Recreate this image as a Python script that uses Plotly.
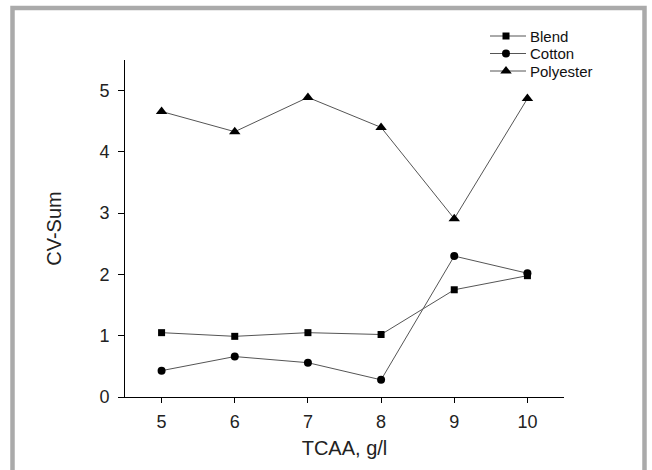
import plotly.graph_objects as go

x_tcaa = [5, 6, 7, 8, 9, 10]
blend = [1.05, 0.99, 1.05, 1.02, 1.75, 1.98]
cotton = [0.43, 0.66, 0.56, 0.28, 2.30, 2.02]
polyester = [4.66, 4.33, 4.89, 4.40, 2.91, 4.87]
series_names = ["Blend", "Cotton", "Polyester"]

W, H = 652, 470
L, R, T, B = 125, 564, 60, 397

FONT = "Liberation Sans, Arial, sans-serif"
LINE = "#555555"

styles = [("square", 7), ("circle", 8), ("triangle-up", 10)]
data = [blend, cotton, polyester]

fig = go.Figure()
for name, vals, (sym, size) in zip(series_names, data, styles):
    fig.add_trace(go.Scatter(
        x=x_tcaa, y=vals, name=name, mode="lines+markers",
        line=dict(color=LINE, width=1),
        marker=dict(symbol=sym, size=size, color="black"),
        xaxis="x", yaxis="y", showlegend=False,
    ))

# manual legend drawn on a full-page pixel overlay axis
leg_y = [36, 53.5, 71]
leg_x0, leg_xm, leg_x1, leg_tx = 490, 506, 526, 528
annotations = []
for name, (sym, size), yy in zip(series_names, styles, leg_y):
    fig.add_trace(go.Scatter(
        x=[leg_x0, leg_x1], y=[yy, yy], mode="lines",
        line=dict(color=LINE, width=1), xaxis="x2", yaxis="y2",
        showlegend=False, hoverinfo="skip"))
    fig.add_trace(go.Scatter(
        x=[leg_xm], y=[yy], mode="markers",
        marker=dict(symbol=sym, size=size, color="black"),
        xaxis="x2", yaxis="y2", showlegend=False, hoverinfo="skip"))
    annotations.append(dict(x=leg_tx, y=yy, xref="x2", yref="y2", text=name,
                            showarrow=False, xanchor="left", yanchor="middle",
                            font=dict(family=FONT, size=15, color="#111111")))

fig.update_layout(
    width=W, height=H,
    margin=dict(l=0, r=0, t=0, b=0, pad=0, autoexpand=False),
    paper_bgcolor="white", plot_bgcolor="rgba(0,0,0,0)",
    font=dict(family=FONT, size=18, color="#222222"),
    showlegend=False,
    xaxis=dict(domain=[L / W, R / W], anchor="y", automargin=False,
               range=[4.5, 10.5], tickvals=x_tcaa, showgrid=False, zeroline=False,
               showline=True, linecolor="black", linewidth=1,
               ticks="outside", ticklen=5, tickcolor="black", ticklabelstandoff=3,
               title=dict(text="TCAA, g/l", standoff=10, font=dict(size=20))),
    yaxis=dict(domain=[1 - B / H, 1 - T / H], anchor="x", automargin=False,
               range=[0, 5.5], tickvals=[0, 1, 2, 3, 4, 5], showgrid=False, zeroline=False,
               showline=True, linecolor="black", linewidth=1,
               ticks="outside", ticklen=6, tickcolor="black", ticklabelstandoff=5,
               title=dict(text="CV-Sum", standoff=32, font=dict(size=20))),
    xaxis2=dict(domain=[0, 1], anchor="y2", range=[0, W], visible=False, automargin=False),
    yaxis2=dict(domain=[0, 1], anchor="x2", range=[H, 0], visible=False, automargin=False),
    annotations=annotations,
    shapes=[
        dict(type="rect", xref="paper", yref="paper",
             x0=12.5 / W, x1=644.5 / W, y0=1 - 8 / H, y1=-0.1,
             line=dict(color="#aaaaaa", width=4.5), fillcolor="rgba(0,0,0,0)", layer="below"),
    ],
)

fig.write_html("out.html")
